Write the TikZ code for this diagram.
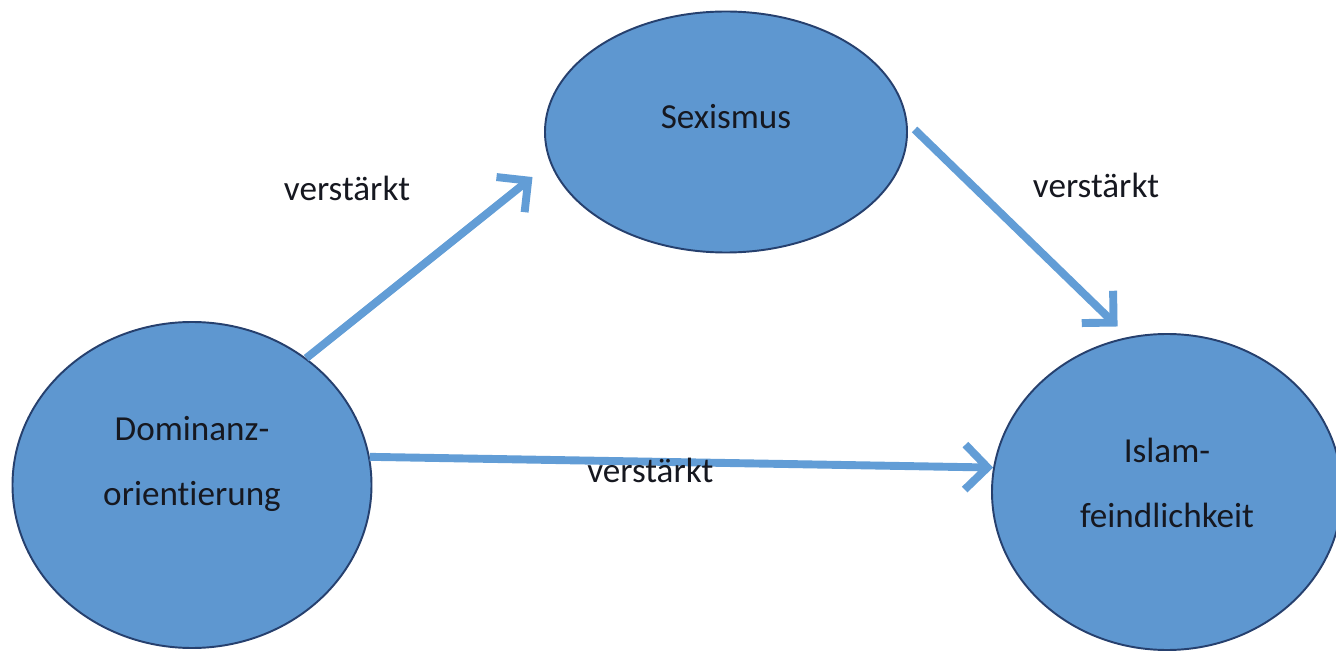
\documentclass[tikz,border=0pt]{standalone}
\usepackage{fontspec}
\setmainfont[RawFeature=-liga]{Carlito}
\usetikzlibrary{arrows.meta,positioning,shapes.geometric}
\definecolor{cblue}{RGB}{94,151,208}
\definecolor{cline}{RGB}{38,64,110}
\definecolor{carrow}{RGB}{98,157,214}
\definecolor{ctext}{RGB}{22,24,32}
\tikzset{
  factor/.style={ellipse, draw=cline, line width=1.1pt, fill=cblue, align=center,
    text=ctext, font=\fontsize{20pt}{37pt}\selectfont, inner sep=0pt},
  effect/.style={-{Straight Barb[length=0.45cm, width=0.9cm]}, line width=4.5pt, carrow},
  efflabel/.style={text=ctext, font=\fontsize{20pt}{24pt}\selectfont, inner sep=0pt}
}
\begin{document}
\begin{tikzpicture}
  \clip (0,0) rectangle (26.72,13.04);
  \fill[white] (0,0) rectangle (26.72,13.04);

  % Ellipses
  \node[factor, minimum width=7.18cm, minimum height=6.52cm, text height=0.92cm, text depth=0.1cm] (dom) at (3.84,3.34) {Dominanz-\\orientierung};
  \node[factor, minimum width=7.24cm, minimum height=4.82cm, text height=0.5cm, text depth=0.65cm] (sex) at (14.52,10.40) {Sexismus};
  \node[factor, minimum width=7.0cm, minimum height=6.32cm, text height=1.52cm, text depth=0.1cm] (isl) at (23.34,3.20) {Islam-\\feindlichkeit};

  % Arrows
  \draw[effect, shorten >=0.45cm] (dom.48) -- (sex.190);
  \draw[effect, shorten <=0.2cm, shorten >=0.3cm] (sex.3) -- (isl.104);
  \draw[effect] (dom.9) -- node[efflabel, pos=0.45, yshift=-0.18cm] (lab3) {verstärkt} (isl.172);

  % Labels
  \node[efflabel] (lab1) at (6.94,9.28) {verstärkt};
  \node[efflabel] (lab2) at (21.92,9.34) {verstärkt};
\end{tikzpicture}
\end{document}
